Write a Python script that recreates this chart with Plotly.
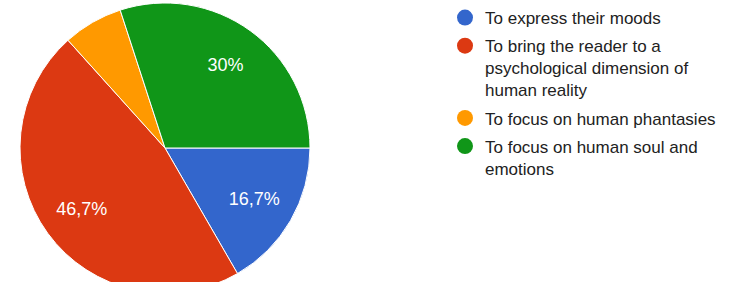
import plotly.graph_objects as go

categories = [
    "To express their moods",
    "To bring the reader to a psychological dimension of human reality",
    "To focus on human phantasies",
    "To focus on human soul and emotions",
]
legend_labels = [
    "To express their moods",
    "To bring the reader to a<br>psychological dimension of<br>human reality",
    "To focus on human phantasies",
    "To focus on human soul and<br>emotions",
]
responses = [5, 14, 2, 9]
slice_labels = ["16,7%", "46,7%", "", "30%"]
colors = ["#3366cc", "#dc3912", "#ff9900", "#109618"]

W, H = 736, 300
dom = dict(x=[20 / W, 310 / W], y=[(H - 293) / H, (H - 3) / H])
fig = go.Figure()
fig.add_trace(go.Pie(
    labels=categories, values=responses, textinfo="none",
    marker=dict(colors=colors, line=dict(color="white", width=1)),
    sort=False, direction="clockwise", rotation=90,
    showlegend=False, domain=dom, hoverinfo="label+percent",
))
fig.add_trace(go.Pie(
    labels=categories, values=responses, text=slice_labels,
    textinfo="text", textposition="inside", insidetextorientation="horizontal",
    textfont=dict(family="Liberation Sans, Arial", size=18, color="white"),
    marker=dict(colors=["rgba(0,0,0,0)"] * len(colors), line=dict(width=0)),
    hole=0.42, sort=False, direction="clockwise", rotation=90,
    showlegend=False, domain=dom, hoverinfo="skip",
))
for i, (name, col) in enumerate(zip(legend_labels, colors)):
    fig.add_trace(go.Scatter(
        x=[None], y=[None], mode="markers", name=name, legendgroup=f"g{i}",
        marker=dict(symbol="circle", size=16, color=col),
    ))

fig.update_layout(
    width=W, height=H,
    margin=dict(l=0, r=0, t=0, b=0),
    paper_bgcolor="white", plot_bgcolor="white",
    xaxis=dict(visible=False), yaxis=dict(visible=False),
    legend=dict(
        x=445 / W, y=1.0, xanchor="left", yanchor="top", valign="top",
        font=dict(family="Liberation Sans, Arial", size=17, color="#222222"),
        traceorder="grouped", tracegroupgap=3, itemsizing="trace",
    ),
)
fig.write_html(
    "out.html",
    config={"displayModeBar": False},
    post_script="document.body.style.margin='0';document.body.style.overflow='hidden';document.documentElement.style.overflow='hidden';",
)
